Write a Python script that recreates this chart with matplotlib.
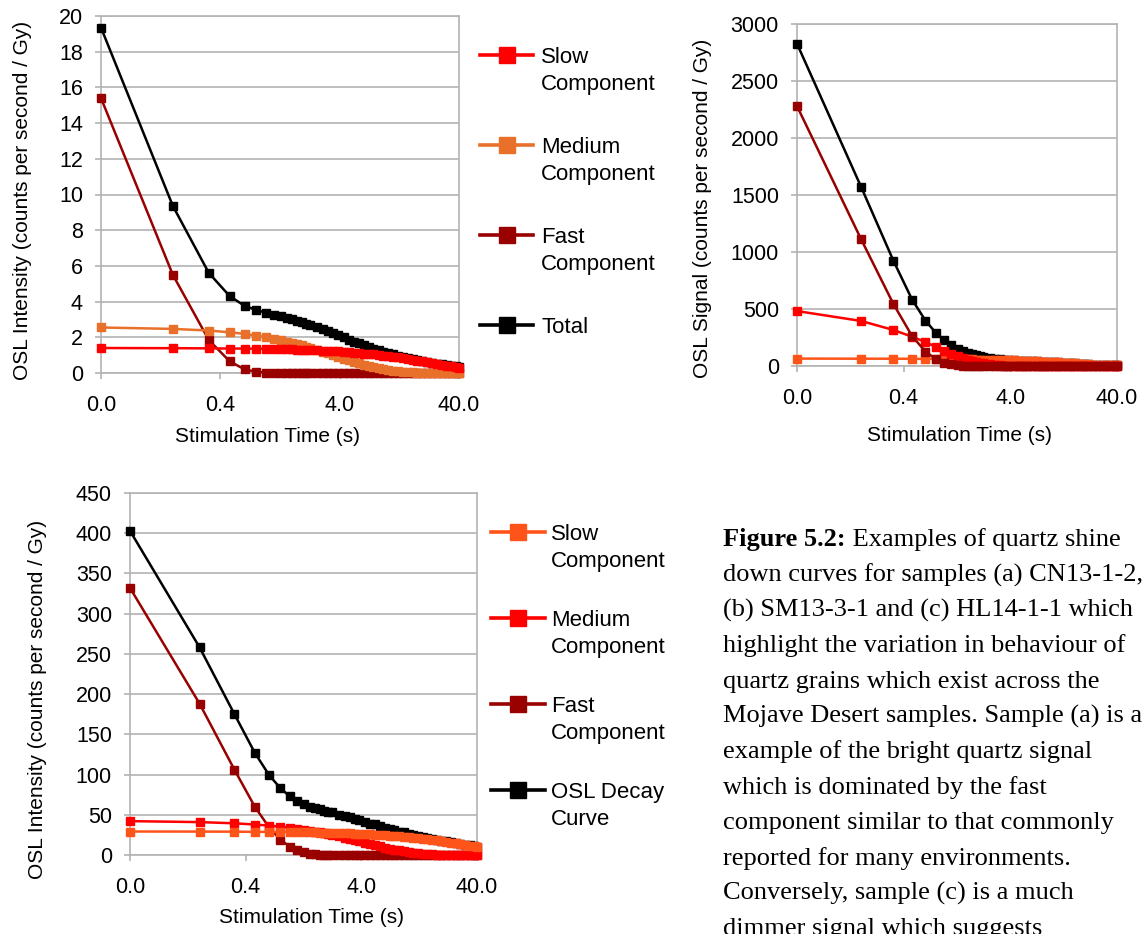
import matplotlib
matplotlib.use('Agg')
import matplotlib.pyplot as plt
from matplotlib.lines import Line2D
from matplotlib.ticker import NullLocator

# ---------------------------------------------------------------
# Data (counts per second / Gy)
# first channel is drawn at the start of the log axis (0.04 s)
# ---------------------------------------------------------------
time = [0.04, 0.16, 0.32, 0.48, 0.64, 0.80, 0.96, 1.12, 1.28, 1.44,
        1.60, 1.76, 1.92, 2.08, 2.24, 2.56, 2.88, 3.20, 3.52, 3.84,
        4.32, 4.80, 5.28, 5.76, 6.40, 7.04, 7.68, 8.48, 9.28, 10.24,
        11.20, 12.32, 13.60, 14.88, 16.32, 17.92, 19.68, 21.60, 23.68, 26.08,
        28.64, 31.52, 34.56, 37.92, 40.00]

x_ticks = [0.04, 0.4, 4, 40]
x_ticklabels = ['0.0', '0.4', '4.0', '40.0']

# (a) CN13-1-2
a_slow = [1.40, 1.39, 1.38, 1.37, 1.37, 1.36, 1.35, 1.34, 1.33, 1.32,
          1.32, 1.31, 1.30, 1.29, 1.28, 1.27, 1.25, 1.24, 1.22, 1.21,
          1.18, 1.16, 1.14, 1.12, 1.09, 1.07, 1.04, 1.01, 0.98, 0.94,
          0.91, 0.87, 0.83, 0.79, 0.75, 0.70, 0.66, 0.61, 0.56, 0.51,
          0.47, 0.42, 0.37, 0.33, 0.30]
a_medium = [2.55, 2.47, 2.38, 2.28, 2.19, 2.10, 2.01, 1.92, 1.84, 1.76,
            1.69, 1.62, 1.55, 1.48, 1.42, 1.30, 1.19, 1.10, 1.00, 0.92,
            0.81, 0.71, 0.62, 0.55, 0.46, 0.39, 0.33, 0.26, 0.21, 0.16,
            0.13, 0.09, 0.07, 0.05, 0.03, 0.02, 0.01, 0.01, 0.00, 0.00,
            0.00, 0.00, 0.00, 0.00, 0.00]
a_fast = [15.40, 5.50, 1.85, 0.65, 0.20, 0.07, 0.02, 0.01, 0.00, 0.00,
          0.00, 0.00, 0.00, 0.00, 0.00, 0.00, 0.00, 0.00, 0.00, 0.00,
          0.00, 0.00, 0.00, 0.00, 0.00, 0.00, 0.00, 0.00, 0.00, 0.00,
          0.00, 0.00, 0.00, 0.00, 0.00, 0.00, 0.00, 0.00, 0.00, 0.00,
          0.00, 0.00, 0.00, 0.00, 0.00]
a_total = [19.35, 9.36, 5.61, 4.30, 3.76, 3.53, 3.38, 3.27, 3.17, 3.08,
           3.01, 2.93, 2.85, 2.77, 2.70, 2.57, 2.44, 2.34, 2.22, 2.13,
           1.99, 1.87, 1.76, 1.67, 1.55, 1.46, 1.37, 1.27, 1.19, 1.10,
           1.04, 0.96, 0.90, 0.84, 0.78, 0.72, 0.67, 0.62, 0.57, 0.53,
           0.49, 0.45, 0.41, 0.38, 0.36]

# (b) SM13-3-1
b_slow = [65, 64, 64, 63, 62, 62, 61, 60, 60, 59,
          58, 58, 57, 57, 56, 55, 54, 52, 51, 50,
          49, 47, 46, 44, 43, 41, 39, 37, 35, 33,
          31, 29, 26, 24, 22, 20, 17, 15, 13, 11,
          10, 8, 6, 5, 5]
b_medium = [482, 395, 316, 257, 210, 168, 135, 108, 86, 69,
            56, 45, 36, 29, 24, 15, 10, 6.5, 4.0, 2.7,
            1.4, 0.7, 0.4, 0.2, 0, 0, 0, 0, 0, 0,
            0, 0, 0, 0, 0, 0, 0, 0, 0, 0,
            0, 0, 0, 0, 0]
b_fast = [2280, 1110, 545, 262, 127, 61, 30, 14.5, 7.0, 3.4,
          1.7, 0.8, 0.4, 0.2, 0.1, 0, 0, 0, 0, 0,
          0, 0, 0, 0, 0, 0, 0, 0, 0, 0,
          0, 0, 0, 0, 0, 0, 0, 0, 0, 0,
          0, 0, 0, 0, 0]
b_total = [2827, 1569, 925, 582, 399, 291, 226, 183, 153, 131,
           116, 104, 93, 86, 80, 70, 64, 59, 55, 53,
           50, 48, 46, 44, 43, 41, 39, 37, 35, 33,
           31, 29, 26, 24, 22, 20, 17, 15, 13, 11,
           10, 8, 6, 5, 5]

# (c) HL14-1-1
c_slow = [29.2, 29.1, 29.0, 28.8, 28.7, 28.6, 28.5, 28.3, 28.2, 28.1,
          28.0, 27.9, 27.7, 27.6, 27.5, 27.3, 27.0, 26.8, 26.6, 26.4,
          26.0, 25.7, 25.4, 25.1, 24.6, 24.2, 23.8, 23.3, 22.8, 22.2,
          21.6, 21.0, 20.3, 19.6, 18.9, 18.2, 17.3, 16.5, 15.5, 14.6,
          13.6, 12.6, 11.6, 10.6, 10.0]
c_medium = [42.1, 40.9, 39.4, 37.9, 36.5, 35.1, 33.8, 32.6, 31.3, 30.2,
            29.0, 28.0, 26.9, 25.9, 24.9, 23.1, 21.4, 19.8, 18.4, 17.0,
            15.2, 13.6, 12.1, 10.8, 9.3, 8.0, 6.8, 5.6, 4.7, 3.7,
            3.0, 2.3, 1.7, 1.2, 0.9, 0.6, 0.4, 0.2, 0.2, 0.1,
            0.0, 0.0, 0.0, 0.0, 0.0]
c_fast = [332, 188, 106, 60, 34, 19, 10.5, 6.0, 3.3, 1.8,
          1.0, 0.6, 0.3, 0.2, 0.1, 0, 0, 0, 0, 0,
          0, 0, 0, 0, 0, 0, 0, 0, 0, 0,
          0, 0, 0, 0, 0, 0, 0, 0, 0, 0,
          0, 0, 0, 0, 0]
c_total = [403, 258, 175, 127, 99, 83, 73, 67, 63, 60,
           58, 57, 55, 54, 53, 50, 48, 47, 45, 43,
           41, 39, 38, 36, 34, 32, 31, 29, 28, 26,
           25, 23, 22, 21, 20, 19, 18, 17, 16, 15,
           14, 13, 12, 11, 10]

caption = ['down curves for samples (a) CN13-1-2,',
           '(b) SM13-3-1 and (c) HL14-1-1 which',
           'highlight the variation in behaviour of',
           'quartz grains which exist across the',
           'Mojave Desert samples. Sample (a) is a',
           'example of the bright quartz signal',
           'which is dominated by the fast',
           'component similar to that commonly',
           'reported for many environments.',
           'Conversely, sample (c) is a much',
           'dimmer signal which suggests']

# colours
red = '#ff0000'
orange = '#e8702a'
orange_red = '#ff5419'
dark_red = '#990000'
black = '#000000'
gridcol = '#b3b3b3'

plt.rcParams['font.family'] = ['Liberation Sans', 'DejaVu Sans']

W, H = 1146, 934
fig = plt.figure(figsize=(W / 100, H / 100), dpi=100)


def box(left, top, right, bottom):
    # pixel box -> figure fraction
    return [left / W, 1 - bottom / H, (right - left) / W, (bottom - top) / H]


def panel(rect, series, ymax, ystep, ylabel, ylab_xy, xlab_xy):
    ax = fig.add_axes(rect)
    for values, color in series:
        ax.plot(time, values, color=color, lw=1.8, marker='s', ms=6,
                mec=color, clip_on=False, zorder=3)
    ax.set_xscale('log')
    ax.set_xlim(0.04, 40)
    ax.set_xticks(x_ticks)
    ax.set_xticklabels(x_ticklabels)
    ax.xaxis.set_minor_locator(NullLocator())
    ax.set_ylim(0, ymax)
    ax.set_yticks(list(range(0, ymax + 1, ystep)))
    ax.set_axisbelow(True)
    ax.yaxis.grid(True, color=gridcol, lw=1.2)
    for s in ax.spines.values():
        s.set_color(gridcol)
        s.set_linewidth(1.2)
    ax.tick_params(axis='both', length=4, color=gridcol, width=1.2, labelsize=15.5)
    ax.tick_params(axis='y', pad=9)
    ax.tick_params(axis='x', pad=12)
    ax.set_ylabel(ylabel, fontsize=15)
    ax.set_xlabel('Stimulation Time (s)', fontsize=15)
    ax.yaxis.set_label_coords(*ylab_xy)
    ax.yaxis.label.set_va('center')
    ax.xaxis.set_label_coords(*xlab_xy)
    ax.xaxis.label.set_va('center')
    return ax


def legend(entries, x_line0, x_line1, x_text, y_first, step):
    for i, (label, color) in enumerate(entries):
        y = y_first + i * step
        xm = (x_line0 + x_line1) / 2
        fig.add_artist(Line2D([x_line0 / W, xm / W, x_line1 / W], [1 - y / H] * 3,
                              color=color, lw=2.6, marker='s', ms=11, mec=color,
                              markevery=[1], transform=fig.transFigure))
        for j, line in enumerate(label.split('\n')):
            fig.text(x_text / W, 1 - (y + 27 * j + 8) / H, line, fontsize=16,
                     va='baseline', ha='left')


# (a)
panel(box(101, 16, 459, 373),
      [(a_total, black), (a_fast, dark_red), (a_medium, orange), (a_slow, red)],
      20, 2, 'OSL Intensity (counts per second / Gy)',
      (-0.218, 0.482), (0.464, -0.179))
legend([('Slow\nComponent', red), ('Medium\nComponent', orange),
        ('Fast\nComponent', dark_red), ('Total', black)],
       480, 533, 541, 55, 90)

# (b)
panel(box(797, 24, 1117, 366),
      [(b_total, black), (b_slow, orange_red), (b_medium, red), (b_fast, dark_red)],
      3000, 500, 'OSL Signal (counts per second / Gy)',
      (-0.294, 0.462), (0.509, -0.202))

# (c)
panel(box(130, 493, 477, 855),
      [(c_total, black), (c_fast, dark_red), (c_medium, red), (c_slow, orange_red)],
      450, 50, 'OSL Intensity (counts per second / Gy)',
      (-0.268, 0.431), (0.522, -0.173))
legend([('Slow\nComponent', orange_red), ('Medium\nComponent', red),
        ('Fast\nComponent', dark_red), ('OSL Decay\nCurve', black)],
       491, 545, 551, 532, 86)

# caption (the last line runs off the bottom, as on the printed page)
cap_x = 723
cap_size = 19
cap_font = ['Liberation Serif', 'DejaVu Serif']
renderer = fig.canvas.get_renderer()
t = fig.text(cap_x / W, 1 - 546 / H, 'Figure 5.2:', fontsize=cap_size, family=cap_font,
             weight='bold', va='baseline')
wb = t.get_window_extent(renderer=renderer).width
fig.text((cap_x + wb) / W, 1 - 546 / H, ' Examples of quartz shine', fontsize=cap_size,
         family=cap_font, va='baseline')
for i, line in enumerate(caption):
    fig.text(cap_x / W, 1 - (546 + 35.4 * (i + 1)) / H, line, fontsize=cap_size,
             family=cap_font, va='baseline')

fig.savefig('out.png', dpi=100)
